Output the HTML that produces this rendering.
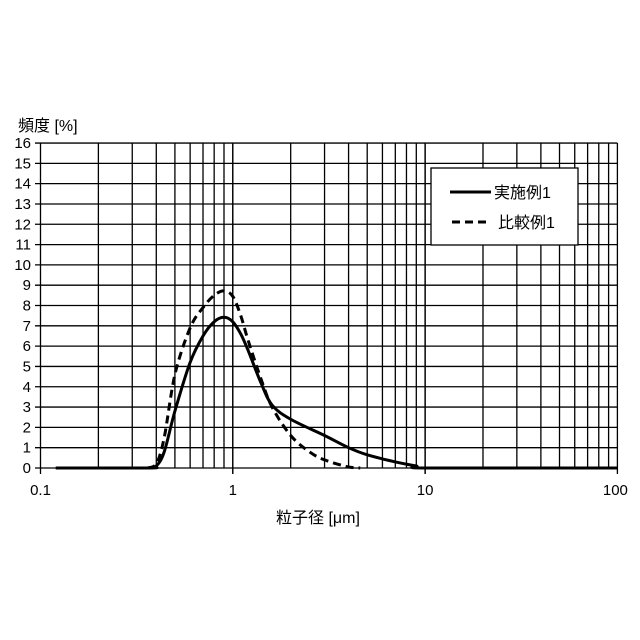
<!DOCTYPE html>
<html><head><meta charset="utf-8"><style>
html,body{margin:0;padding:0;background:#fff;}
svg{display:block;font-family:"Liberation Sans","Noto Sans CJK JP",sans-serif;}
</style></head><body>
<svg id="s" width="640" height="640" viewBox="0 0 640 640" xmlns="http://www.w3.org/2000/svg">
<rect width="640" height="640" fill="#fff"/>
<g id="grid" stroke="#000" stroke-width="1.3"></g>
<g id="lab" font-size="15" fill="#000"></g>
<text x="18" y="131" font-size="16">頻度 [%]</text>
<text x="276" y="523" font-size="16">粒子径 [μm]</text>
<path id="c2" fill="none" stroke="#000" stroke-width="3" stroke-dasharray="8,5"/>
<path id="c1" fill="none" stroke="#000" stroke-width="3"/>
<rect x="431" y="168" width="147" height="77" fill="#fff" stroke="#000" stroke-width="1.3"/>
<line x1="450" y1="192" x2="491" y2="192" stroke="#000" stroke-width="3"/>
<text x="494" y="198" font-size="16">実施例1</text>
<line x1="452" y1="222" x2="490" y2="222" stroke="#000" stroke-width="3" stroke-dasharray="8,5"/>
<text x="498" y="228" font-size="16">比較例1</text>
</svg>
<script>
var X0=40.5,D=192.3,Y0=468,U=20.31;
function px(v){return X0+(Math.log10(v)+1)*D;}
function py(v){return Y0-v*U;}
var g=document.getElementById('grid'),l=document.getElementById('lab'),ns='http://www.w3.org/2000/svg';
function ln(a,b,c,d){var e=document.createElementNS(ns,'line');e.setAttribute('x1',a);e.setAttribute('y1',b);e.setAttribute('x2',c);e.setAttribute('y2',d);g.appendChild(e);}
function tx(x,y,t,a){var e=document.createElementNS(ns,'text');e.setAttribute('x',x);e.setAttribute('y',y);e.setAttribute('text-anchor',a);e.textContent=t;l.appendChild(e);}
for(var i=0;i<=16;i++){ln(35,py(i),px(100),py(i));tx(31,py(i)+5,String(i),'end');}
for(var d=-1;d<2;d++)for(var k=1;k<=10;k++){var v=k*Math.pow(10,d);ln(px(v),143,px(v),k==1||k==10?474:468);}
tx(px(0.1),495,'0.1','middle');tx(px(1),495,'1','middle');tx(px(10),495,'10','middle');tx(px(100)-2,495,'100','middle');
function path(pts){var P=pts.map(function(p){return [px(p[0]),py(p[1])];});var s='M'+P[0][0]+','+P[0][1];
for(var i=0;i<P.length-1;i++){var p0=P[Math.max(0,i-1)],p1=P[i],p2=P[i+1],p3=P[Math.min(P.length-1,i+2)];
var c1x=p1[0]+(p2[0]-p0[0])/6,c1y=p1[1]+(p2[1]-p0[1])/6,c2x=p2[0]-(p3[0]-p1[0])/6,c2y=p2[1]-(p3[1]-p1[1])/6;
c1y=Math.min(c1y,Y0);c2y=Math.min(c2y,Y0);s+=' C'+c1x+','+c1y+' '+c2x+','+c2y+' '+p2[0]+','+p2[1];}return s;}
document.getElementById('c1').setAttribute('d',path([[0.12,0],[0.36,0],[0.4,0.1],[0.44,0.8],[0.5,2.8],[0.6,5.2],[0.7,6.5],[0.8,7.2],[0.9,7.42],[1.0,7.2],[1.1,6.6],[1.2,5.8],[1.4,4.2],[1.6,3.1],[2,2.4],[3,1.6],[4,1.0],[5,0.65],[7,0.3],[9,0.1],[10.5,0],[100,0]]));
document.getElementById('c2').setAttribute('d',path([[0.36,0],[0.4,0.2],[0.44,1.5],[0.5,4.6],[0.6,6.9],[0.7,7.9],[0.8,8.5],[0.9,8.72],[1.0,8.45],[1.1,7.5],[1.2,6.3],[1.4,4.4],[1.6,3.0],[2,1.6],[2.5,0.8],[3,0.4],[4,0.05],[4.6,0]]));
</script>
</body></html>
